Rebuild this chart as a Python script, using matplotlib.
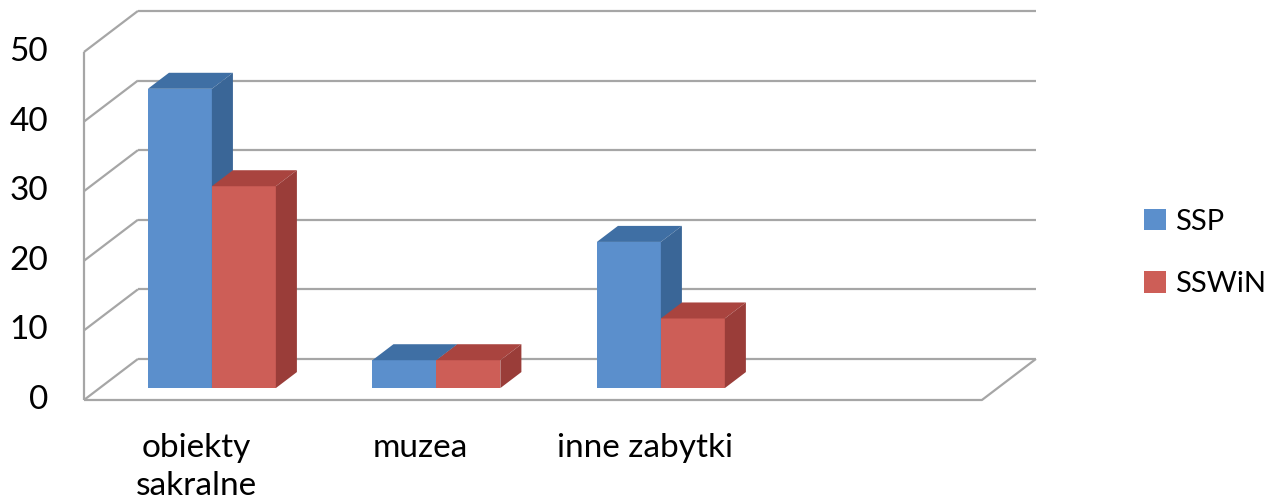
import numpy as np
import matplotlib.pyplot as plt
from matplotlib.patches import Polygon, Patch

categories = ['obiekty\nsakralne', 'muzea', 'inne zabytki', '']
series = ['SSP', 'SSWiN']
ssp = [43, 4, 21, 0]
sswin = [29, 4, 10, 0]
yticks = [0, 10, 20, 30, 40, 50]

front_col = ['#5B8FCC', '#CD5E57']
top_col = ['#3F6FA4', '#A9443F']
side_col = ['#3A6697', '#9A3D39']
grid_col = '#A6A6A6'

plt.rcParams['font.family'] = ['Lato', 'DejaVu Sans']

# oblique offset for the 3D look (category units, value units)
ddx, ddy = 0.2405, 5.9
f0, f1 = 0.29, 0.68      # bar front/back depth fraction
bw = 0.285               # width of one bar

fig = plt.figure(figsize=(12.74, 5.03), dpi=100)
ax = fig.add_axes([0, 0, 1, 1])
ax.set_xlim(-0.374, 5.301)
ax.set_ylim(-14.8, 57.47)
ax.axis('off')

n = len(categories)
gl = dict(color=grid_col, lw=1.6, solid_capstyle='butt', zorder=1)

# back wall gridlines + left wall diagonals
for v in yticks:
    ax.plot([ddx, n + ddx], [v + ddy, v + ddy], **gl)
    ax.plot([0, ddx], [v, v + ddy], **gl)
    ax.text(-0.16, v, str(v), ha='right', va='center', fontsize=24)
ax.plot([0, 0], [0, yticks[-1]], **gl)
# floor
ax.plot([0, n, n + ddx], [0, 0, ddy], **gl)

# bars
for i in range(n):
    c = i + 0.5 + f0 * ddx
    for s, vals in enumerate([ssp, sswin]):
        v = vals[i]
        if v <= 0:
            continue
        x0 = c - bw + s * bw
        x1 = x0 + bw
        y0 = f0 * ddy
        y1 = y0 + v
        ox, oy = (f1 - f0) * ddx, (f1 - f0) * ddy
        z = 3 + i * 2 + s
        ax.add_patch(Polygon([(x0, y0), (x1, y0), (x1, y1), (x0, y1)],
                             closed=True, fc=front_col[s], ec='none', zorder=z))
        ax.add_patch(Polygon([(x0, y1), (x1, y1), (x1 + ox, y1 + oy), (x0 + ox, y1 + oy)],
                             closed=True, fc=top_col[s], ec='none', zorder=z))
        ax.add_patch(Polygon([(x1, y0), (x1 + ox, y0 + oy), (x1 + ox, y1 + oy), (x1, y1)],
                             closed=True, fc=side_col[s], ec='none', zorder=z))

# category labels
for i, lab in enumerate(categories):
    ax.text(i + 0.5, -4.7, lab, ha='center', va='top', fontsize=24, linespacing=1.35)

handles = [Patch(fc=front_col[0], ec='none'), Patch(fc=front_col[1], ec='none')]
fig.legend(handles, series, loc='center left', bbox_to_anchor=(0.898, 0.497),
           frameon=False, fontsize=21, handlelength=0.75, handleheight=0.75,
           handletextpad=0.3, labelspacing=1.25, borderaxespad=0, borderpad=0)

fig.savefig('out.png', dpi=100, facecolor='white')
